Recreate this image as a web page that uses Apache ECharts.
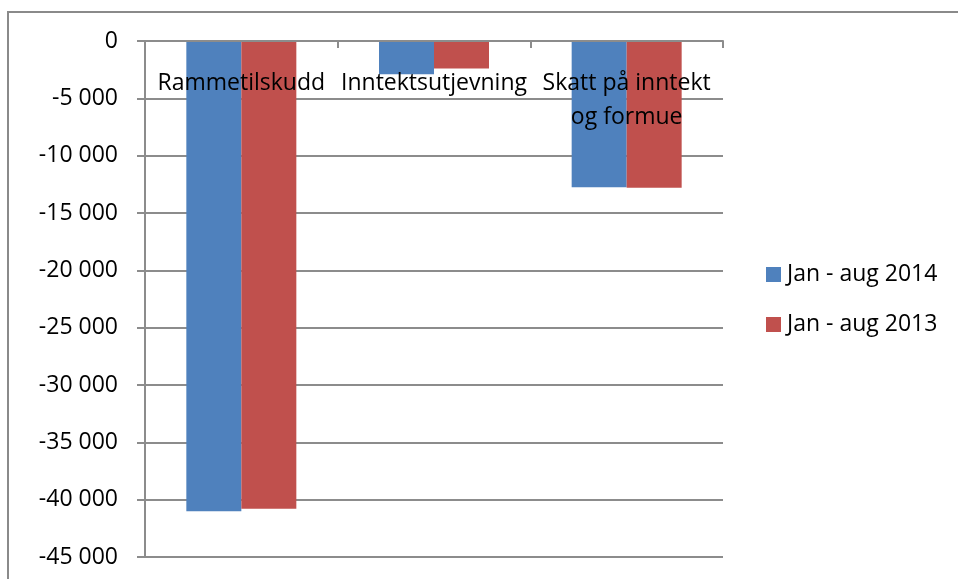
<!DOCTYPE html>
<html>
<head>
<meta charset="utf-8">
<script src="https://cdn.jsdelivr.net/npm/echarts@6/dist/echarts.min.js"></script>
<style>
html,body{margin:0;padding:0;background:#fff;}
#main{width:958px;height:579px;}
</style>
</head>
<body>
<div id="main"></div>
<script>
var categories = ['Rammetilskudd', 'Inntektsutjevning', 'Skatt på inntekt\nog formue'];
var seriesNames = ['Jan - aug 2014', 'Jan - aug 2013'];
var values2014 = [-41000, -2900, -12750];
var values2013 = [-40800, -2400, -12800];
var yTicks = { min: -45000, max: 0, interval: 5000 };

var FONT = '"Open Sans", sans-serif';
var GRID = '#8c8c8c';
var chart = echarts.init(document.getElementById('main'), null, { renderer: 'canvas' });

function fmt(v) {
  var s = Math.abs(v).toString().replace(/\B(?=(\d{3})+(?!\d))/g, ' ');
  return (v < 0 ? '-' : '') + s;
}

chart.setOption({
  animation: false,
  backgroundColor: '#fff',
  textStyle: { fontFamily: FONT },
  graphic: [{
    type: 'rect',
    shape: { x: 8, y: 12, width: 980, height: 600 },
    style: { fill: 'none', stroke: '#8a8a8a', lineWidth: 2 },
    silent: true
  }],
  grid: { left: 145, right: 235, top: 41, bottom: 22, containLabel: false, outerBoundsMode: 'none' },
  legend: {
    orient: 'vertical',
    left: 766,
    top: 262,
    padding: 0,
    itemWidth: 15,
    itemHeight: 15,
    itemGap: 25,
    icon: 'rect',
    data: seriesNames,
    textStyle: { fontSize: 23, lineHeight: 25, color: '#000', fontFamily: FONT, padding: [0, 0, 0, 1] }
  },
  xAxis: {
    type: 'category',
    position: 'top',
    z: 10,
    data: categories,
    axisLine: { onZero: false, lineStyle: { color: GRID, width: 2 } },
    axisTick: { show: true, inside: true, length: 7, lineStyle: { color: GRID, width: 2 } },
    axisLabel: { inside: true, interval: 0, margin: 25, fontSize: 23, lineHeight: 34, color: '#000', fontFamily: FONT },
    splitLine: { show: false }
  },
  yAxis: {
    type: 'value',
    min: yTicks.min,
    max: yTicks.max,
    interval: yTicks.interval,
    axisLine: { show: true, lineStyle: { color: GRID, width: 2 } },
    axisTick: { show: true, length: 8, lineStyle: { color: GRID, width: 2 } },
    axisLabel: { margin: 27, fontSize: 23, color: '#000', fontFamily: FONT, formatter: fmt },
    splitLine: { show: true, lineStyle: { color: GRID, width: 2 } }
  },
  series: [
    { name: seriesNames[0], type: 'bar', data: values2014, barWidth: 55, barGap: '0%',
      itemStyle: { color: '#4F81BD' } },
    { name: seriesNames[1], type: 'bar', data: values2013, barWidth: 55, barGap: '0%',
      itemStyle: { color: '#C0504D' } }
  ]
});
</script>
</body>
</html>
